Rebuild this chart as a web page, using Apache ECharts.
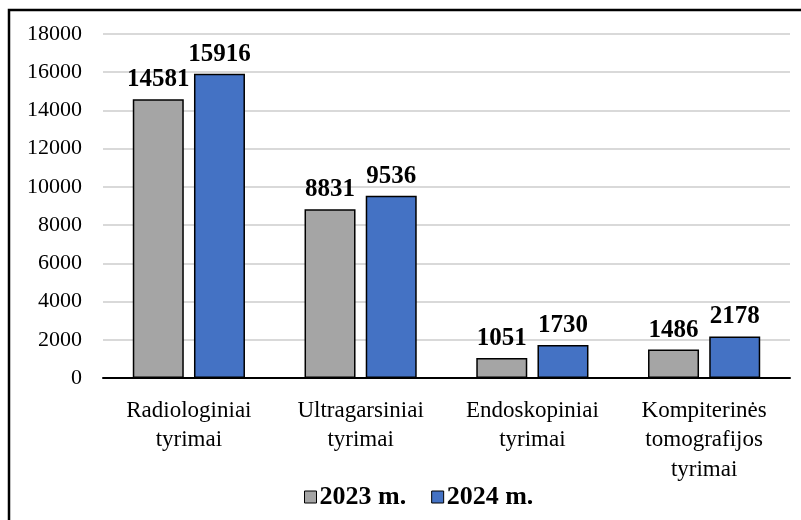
<!DOCTYPE html>
<html><head><meta charset="utf-8">
<script src="https://cdn.jsdelivr.net/npm/echarts@6/dist/echarts.min.js"></script>
<style>html,body{margin:0;padding:0;background:#fff}#c{width:801px;height:520px}</style>
</head><body><div id="c"></div>
<script>
var categories = ['Radiologiniai\ntyrimai', 'Ultragarsiniai\ntyrimai', 'Endoskopiniai\ntyrimai', 'Kompiterinės\ntomografijos\ntyrimai'];
var seriesNames = ['2023 m.', '2024 m.'];
var values2023 = [14581, 8831, 1051, 1486];
var values2024 = [15916, 9536, 1730, 2178];
var colors = ['#a5a5a5', '#4472c4'];

var font = 'Liberation Serif';
var chart = echarts.init(document.getElementById('c'));
function mk(name, data, color) {
  return {
    name: name, type: 'bar', data: data,
    barWidth: 51, barGap: '20%',
    itemStyle: {color: color, borderColor: '#000', borderWidth: 1.5},
    label: {show: true, position: 'top', distance: 7, color: '#000',
      fontFamily: font, fontWeight: 'bold', fontSize: 25}
  };
}
chart.setOption({
  animation: false,
  graphic: [{type: 'rect', shape: {x: 9, y: 10, width: 810, height: 530},
    style: {fill: 'none', stroke: '#000', lineWidth: 2.5}, z: 100}],
  legend: {
    data: seriesNames, left: 299, top: 479, itemWidth: 12, itemHeight: 12, itemGap: 25,
    icon: 'rect',
    textStyle: {fontFamily: font, fontWeight: 'bold', fontSize: 26, color: '#000', padding: [0,0,0,-2]},
    itemStyle: {borderColor: '#000', borderWidth: 1}
  },
  grid: {left: 103, right: 11, top: 34, bottom: 142, containLabel: false},
  xAxis: {
    type: 'category', data: categories,
    axisLine: {lineStyle: {color: '#000', width: 2}},
    axisTick: {show: false},
    axisLabel: {fontFamily: font, fontSize: 23, color: '#000', lineHeight: 29.5, margin: 18, interval: 0}
  },
  yAxis: {
    type: 'value', min: 0, max: 18000, interval: 2000,
    axisLine: {show: false}, axisTick: {show: false},
    splitLine: {lineStyle: {color: '#d9d9d9', width: 2}},
    axisLabel: {fontFamily: font, fontSize: 22, color: '#000', margin: 21,
      formatter: function (v) { return String(v); }}
  },
  series: [mk(seriesNames[0], values2023, colors[0]), mk(seriesNames[1], values2024, colors[1])]
});
</script></body></html>
